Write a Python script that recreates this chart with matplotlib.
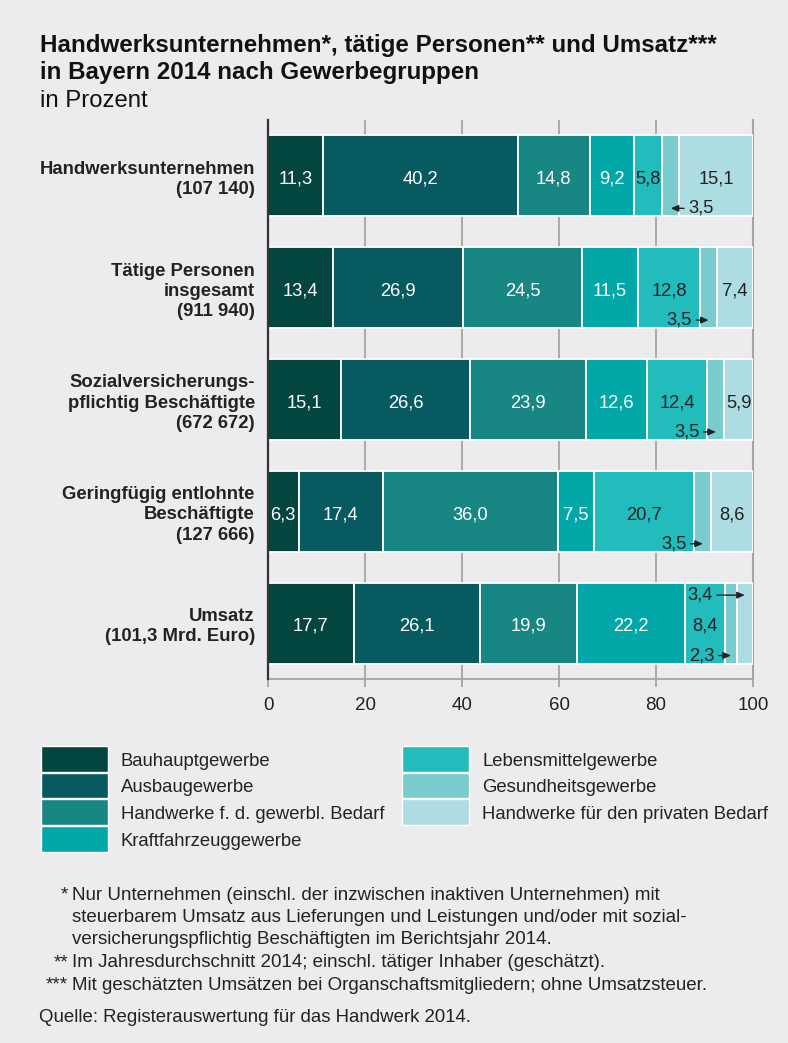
"""
Stacked percentage bars: Handwerk in Bayern 2014 nach Gewerbegruppen.
"""

import matplotlib
matplotlib.use("Agg")
import matplotlib.pyplot as plt
from matplotlib.patches import Rectangle
import numpy as np

plt.rcParams["font.family"] = ["Liberation Sans", "DejaVu Sans"]

# --- data ---
row_labels = [
    "Handwerksunternehmen\n(107 140)",
    "Tätige Personen\ninsgesamt\n(911 940)",
    "Sozialversicherungs-\npflichtig Beschäftigte\n(672 672)",
    "Geringfügig entlohnte\nBeschäftigte\n(127 666)",
    "Umsatz\n(101,3 Mrd. Euro)",
]
groups = [
    "Bauhauptgewerbe",
    "Ausbaugewerbe",
    "Handwerke f. d. gewerbl. Bedarf",
    "Kraftfahrzeuggewerbe",
    "Lebensmittelgewerbe",
    "Gesundheitsgewerbe",
    "Handwerke für den privaten Bedarf",
]
bauhaupt = [11.3, 13.4, 15.1, 6.3, 17.7]
ausbau = [40.2, 26.9, 26.6, 17.4, 26.1]
gewerbl = [14.8, 24.5, 23.9, 36.0, 19.9]
kfz = [9.2, 11.5, 12.6, 7.5, 22.2]
lebensmittel = [5.8, 12.8, 12.4, 20.7, 8.4]
gesundheit = [3.5, 3.5, 3.5, 3.5, 2.3]
privat = [15.1, 7.4, 5.9, 8.6, 3.4]
x_ticks = [0, 20, 40, 60, 80, 100]

footnote_marks = ["*", "", "", "**", "***"]
footnote_lines = [
    "Nur Unternehmen (einschl. der inzwischen inaktiven Unternehmen) mit",
    "steuerbarem Umsatz aus Lieferungen und Leistungen und/oder mit sozial-",
    "versicherungspflichtig Beschäftigten im Berichtsjahr 2014.",
    "Im Jahresdurchschnitt 2014; einschl. tätiger Inhaber (geschätzt).",
    "Mit geschätzten Umsätzen bei Organschaftsmitgliedern; ohne Umsatzsteuer.",
]
source = "Quelle: Registerauswertung für das Handwerk 2014."

# small segments labelled outside with an arrow: (row, series, direction, above/below)
callouts = [(0, 5, "left", "below"), (1, 5, "right", "below"), (2, 5, "right", "below"),
            (3, 5, "right", "below"), (4, 6, "right", "above"), (4, 5, "right", "below")]

colors = ["#02463F", "#065A60", "#188683", "#02A8A8", "#22BCBC", "#79CBCD", "#ADDCE2"]
label_colors = ["white", "white", "white", "white", "#222222", "#222222", "#222222"]
BG = "#ECECEF"
DARK = "#222222"

W, H = 788, 1043


def fx(px):
    return px / W


def fy(py):
    return 1 - py / H


def fmt(v):
    return f"{v:.1f}".replace(".", ",")


fig = plt.figure(figsize=(W / 100, H / 100), dpi=100, facecolor=BG)
ax = fig.add_axes([fx(268), fy(679), fx(753) - fx(268), fy(120) - fy(679)])
ax.set_facecolor(BG)

series = [bauhaupt, ausbau, gewerbl, kfz, lebensmittel, gesundheit, privat]
data = np.array(series)
lefts = np.vstack([np.zeros(data.shape[1]), np.cumsum(data, axis=0)[:-1]])
ypos = np.arange(len(row_labels))
bar_h = 0.725

for i, vals in enumerate(series):
    ax.barh(ypos, vals, left=lefts[i], height=bar_h, color=colors[i],
            edgecolor="white", linewidth=1.3, zorder=3)

called = {(r, s) for r, s, _, _ in callouts}
for r in range(len(row_labels)):
    for s in range(len(series)):
        if (r, s) in called:
            continue
        v = data[s, r]
        ax.text(lefts[s, r] + v / 2, r + 0.03, fmt(v), ha="center", va="center",
                fontsize=13.2, color=label_colors[s], zorder=4)

for r, s, direction, pos in callouts:
    v = data[s, r]
    tip = lefts[s, r] + v / 2
    dy = -0.25 if pos == "above" else 0.29
    length = 6.6 if pos == "above" else 3.4
    if direction == "left":
        tx, ha = tip + 3.6, "left"
    else:
        tx, ha = tip - length, "right"
    ax.annotate(fmt(v), xy=(tip, r + dy), xytext=(tx, r + dy), ha=ha, va="center",
                fontsize=13.2, color=DARK, zorder=5,
                arrowprops=dict(arrowstyle="-|>,head_length=0.45,head_width=0.2",
                                color=DARK, lw=1.0, mutation_scale=10,
                                shrinkA=1, shrinkB=0))

ax.set_xlim(0, 100)
ax.set_ylim(len(row_labels) - 0.5, -0.5)
ax.set_xticks(x_ticks)
ax.set_xticklabels([str(t) for t in x_ticks], fontsize=13.5, color=DARK)
ax.tick_params(axis="x", length=6, width=1.3, color="#A5A5A5", pad=7)
ax.set_yticks(ypos)
ax.set_yticklabels(row_labels, fontsize=13.3, fontweight="bold", color=DARK)
for lab in ax.get_yticklabels():
    lab.set_linespacing(1.26)
ax.tick_params(axis="y", length=0, pad=9.5)

ax.set_axisbelow(True)
ax.xaxis.grid(True, color="#A5A5A5", linewidth=1.3, zorder=0)
ax.spines["top"].set_visible(False)
ax.spines["right"].set_color("#A5A5A5")
ax.spines["right"].set_linewidth(1.5)
ax.spines["bottom"].set_color("#A5A5A5")
ax.spines["bottom"].set_linewidth(1.3)
ax.spines["left"].set_color("#333333")
ax.spines["left"].set_linewidth(1.6)
ax.spines["left"].set_zorder(6)

# title block
fig.text(fx(40), fy(52), "Handwerksunternehmen*, tätige Personen** und Umsatz***",
         fontsize=17.4, fontweight="bold", color="#111111", va="baseline")
fig.text(fx(40), fy(79), "in Bayern 2014 nach Gewerbegruppen",
         fontsize=17.4, fontweight="bold", color="#111111", va="baseline")
fig.text(fx(40), fy(107), "in Prozent", fontsize=17.2, color="#111111", va="baseline")

# legend, two columns of stacked swatches
legend_cols = [(41, 121, groups[:4], colors[:4]), (402, 482, groups[4:], colors[4:])]
for sx, tx, names, cols in legend_cols:
    for k, (name, c) in enumerate(zip(names, cols)):
        top = 746 + k * 26.7
        fig.add_artist(Rectangle((fx(sx), fy(top + 25.5)), fx(67), 25.5 / H,
                                 transform=fig.transFigure, facecolor=c,
                                 edgecolor="white", linewidth=1.0))
        fig.text(fx(tx), fy(top + 15), name, fontsize=13.3, color=DARK, va="center")

# footnotes
for k, (mark, line) in enumerate(zip(footnote_marks, footnote_lines)):
    yy = fy(895 + k * 22.5)
    if mark:
        fig.text(fx(68), yy, mark, fontsize=13.5, color=DARK, ha="right", va="center")
    fig.text(fx(72), yy, line, fontsize=13.5, color=DARK, ha="left", va="center")
fig.text(fx(39), fy(1017), source, fontsize=13.4, color=DARK, va="center")

fig.savefig("out.png", dpi=100, facecolor=BG)
